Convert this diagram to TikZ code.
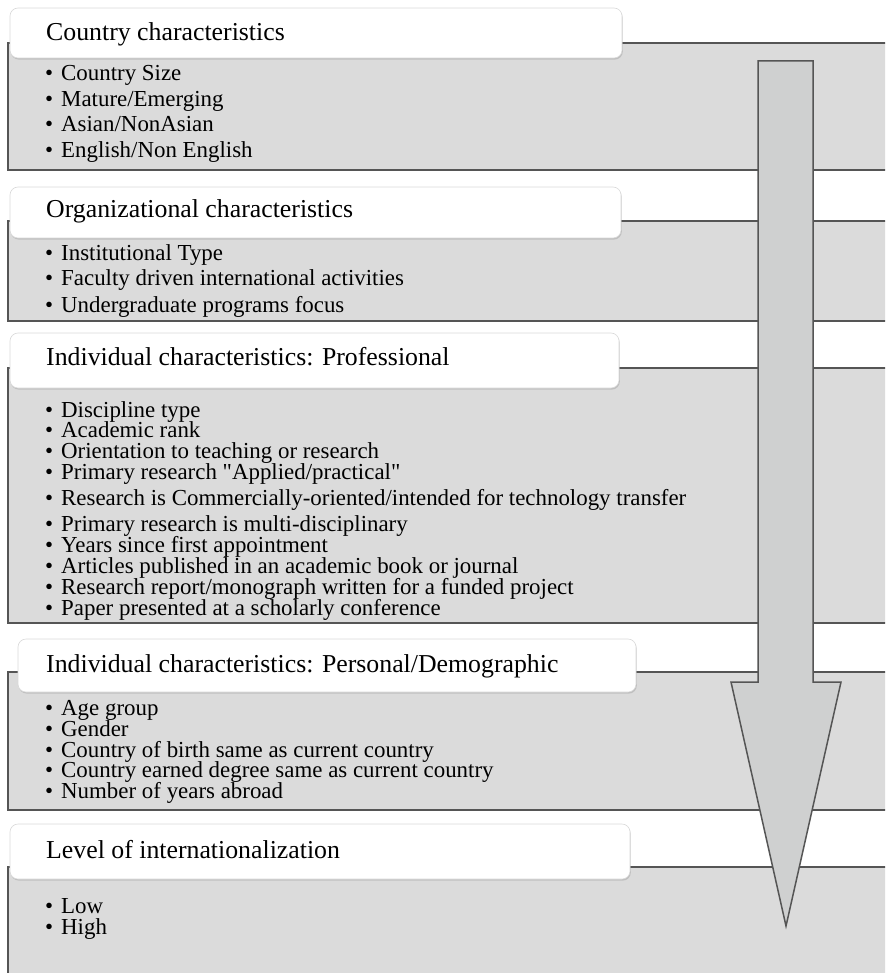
\documentclass[tikz,border=0pt]{standalone}
\usepackage{xcolor}
\usepackage{fontspec}
\setmainfont{Liberation Serif}
\usepackage{tikz}
\usetikzlibrary{shadows}

\definecolor{panelgray}{HTML}{DBDBDB}
\definecolor{arrowgray}{HTML}{CFD0D0}
\definecolor{edgegray}{HTML}{555555}

\tikzset{
  panel/.style={fill=panelgray, draw=edgegray, line width=1.5pt},
  headbox/.style={rounded corners=8pt, fill=white, draw=black!15, line width=0.6pt,
    drop shadow={opacity=0.3, shadow xshift=0.8pt, shadow yshift=-1.6pt}},
  headtext/.style={anchor=base west, inner sep=0pt, font=\fontsize{25.8}{30}\selectfont},
  listitem/.style={anchor=base west, inner sep=0pt, font=\fontsize{22.9}{26}\selectfont}
}
\newcommand{\bul}[1]{\makebox[16pt][l]{\textbullet}#1}

\begin{document}
\begin{tikzpicture}[x=1pt, y=-1pt]
      \useasboundingbox (0,0) rectangle (885,973);
      \clip (0,0) rectangle (885,973);

      \draw[panel] (8,43) rectangle (900,170);
      \draw[panel] (8,221) rectangle (900,321);
      \draw[panel] (8,368) rectangle (900,623);
      \draw[panel] (8,672) rectangle (900,810);
      \draw[panel] (8,867) rectangle (900,995);

      % arrow down the right side
      \draw[fill=arrowgray, draw=edgegray, line width=1.5pt, line join=miter]
        (758,61) -- (813,61) -- (813,682) -- (841,682) -- (786,926)
        -- (731,682) -- (758,682) -- cycle;

      \draw[headbox] (10,8) rectangle (622,58);
      \draw[headbox] (10,187) rectangle (621,238);
      \draw[headbox] (10,333) rectangle (619,388);
      \draw[headbox] (18,639) rectangle (636,692);
      \draw[headbox] (10,824) rectangle (630,879);

      \node[headtext] (cty) at (46,41) {Country characteristics};
      \node[headtext] (org) at (46,218) {Organizational characteristics};
      \node[headtext] (pro) at (46,365) {Individual characteristics: Professional};
      \node[headtext] (per) at (46,672) {Individual characteristics: Personal/Demographic};
      \node[headtext] (lvl) at (46,858) {Level of internationalization};

      \foreach \y/\t [count=\i] in {81/Country Size, 107/{Mature/Emerging},
          132/{Asian/NonAsian}, 158/{English/Non English}}
        \node[listitem] (cty\i) at (45,\y) {\bul{\t}};

      \foreach \y/\t [count=\i] in {261/Institutional Type,
          286/Faculty driven international activities, 312/Undergraduate programs focus}
        \node[listitem] (org\i) at (45,\y) {\bul{\t}};

      \foreach \y/\t [count=\i] in {417/Discipline type, 437/Academic rank,
          458/Orientation to teaching or research,
          479/{Primary research \textquotedbl Applied/practical\textquotedbl},
          505/{Research is Commercially-oriented/intended for technology transfer},
          531/Primary research is multi-disciplinary,
          552/Years since first appointment,
          573/Articles published in an academic book or journal,
          594/{Research report/monograph written for a funded project},
          615/Paper presented at a scholarly conference}
        \node[listitem] (pro\i) at (45,\y) {\bul{\t}};

      \foreach \y/\t [count=\i] in {715/Age group, 736/Gender,
          757/Country of birth same as current country,
          777/Country earned degree same as current country,
          798/Number of years abroad}
        \node[listitem] (per\i) at (45,\y) {\bul{\t}};

      \foreach \y/\t [count=\i] in {913/Low, 934/High}
        \node[listitem] (lvl\i) at (45,\y) {\bul{\t}};
    \end{tikzpicture}
\end{document}
